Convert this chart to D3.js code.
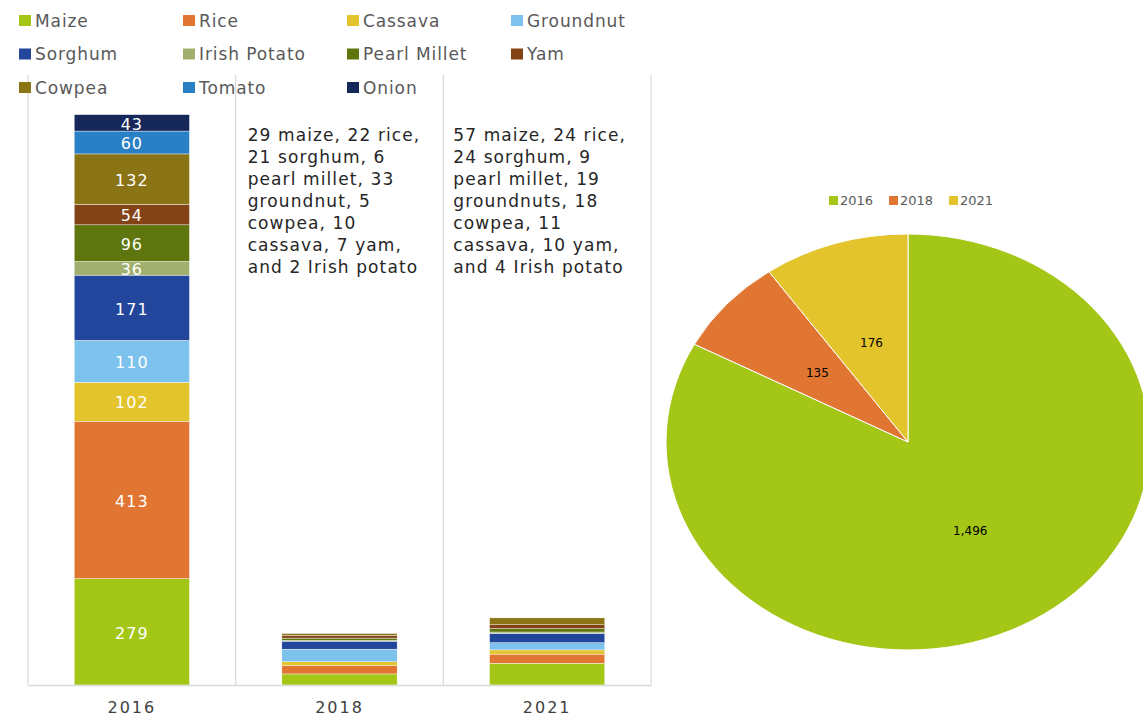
<!DOCTYPE html>
<html>
<head>
<meta charset="utf-8">
<script src="https://cdn.jsdelivr.net/npm/d3@7"></script>
<style>
  body { margin: 0; background: #fff; }
  text { font-family: "DejaVu Sans", sans-serif; }
</style>
</head>
<body>
<div id="chart"></div>
<script>
// years on the x axis
const years = ["2016", "2018", "2021"];

// series, one value per year
const crops = ["Maize", "Rice", "Cassava", "Groundnut", "Sorghum", "Irish Potato",
               "Pearl Millet", "Yam", "Cowpea", "Tomato", "Onion"];
const maize       = [279, 29, 57];
const rice        = [413, 22, 24];
const cassava     = [102, 10, 11];
const groundnut   = [110, 33, 19];
const sorghum     = [171, 21, 24];
const irishPotato = [36, 2, 4];
const pearlMillet = [96, 6, 9];
const yam         = [54, 7, 10];
const cowpea      = [132, 5, 18];
const tomato      = [60, 0, 0];
const onion       = [43, 0, 0];

const cropColors = ["#a3c617", "#e07631", "#e4c42c", "#7dc1ed", "#21469b", "#a1b06f",
                    "#5f760e", "#844217", "#8a7415", "#2980c4", "#16285a"];

// pie totals
const pieValues = [1496, 135, 176];
const pieColors = ["#a3c617", "#e07631", "#e4c42c"];

const note2018 = ["29 maize, 22 rice,", "21 sorghum, 6", "pearl millet, 33",
                  "groundnut, 5", "cowpea, 10", "cassava, 7 yam,", "and 2 Irish potato"];
const note2021 = ["57 maize, 24 rice,", "24 sorghum, 9", "pearl millet, 19",
                  "groundnuts, 18", "cowpea, 11", "cassava, 10 yam,", "and 4 Irish potato"];

const seriesValues = [maize, rice, cassava, groundnut, sorghum, irishPotato,
                      pearlMillet, yam, cowpea, tomato, onion];

const table = years.map((yr, i) => {
    const row = {year: yr};
    crops.forEach((c, j) => row[c] = seriesValues[j][i]);
    return row;
});

const W = 1143, H = 716;
const svg = d3.select("#chart").append("svg")
    .attr("width", W).attr("height", H);

const x = d3.scaleBand().domain(years).range([28, 651]).padding(0);
const y = d3.scaleLinear().domain([0, 1600]).range([685, 75]);
const barW = x.bandwidth() * 0.555;

// vertical separators
const seps = years.map(d => x(d)).concat([x.range()[1]]);
svg.selectAll(".sep").data(seps).enter().append("line")
    .attr("x1", d => d).attr("x2", d => d)
    .attr("y1", y(1600)).attr("y2", y(0))
    .attr("stroke", "#d9d9d9").attr("stroke-width", 1.2);

const stack = d3.stack().keys(crops)(table);

const layer = svg.selectAll(".layer").data(stack).enter().append("g")
    .attr("fill", (d, i) => cropColors[i]);

layer.selectAll("rect").data(d => d).enter().append("rect")
    .attr("x", d => x(d.data.year) + (x.bandwidth() - barW) / 2)
    .attr("y", d => y(d[1]))
    .attr("width", barW)
    .attr("height", d => y(d[0]) - y(d[1]))
    .attr("stroke", "#fff").attr("stroke-width", 0.4);

// labels on the 2016 bar
layer.each(function(s) {
    const d = s[0];
    d3.select(this.parentNode).append("text")
        .attr("x", x(d.data.year) + x.bandwidth() / 2)
        .attr("y", (y(d[0]) + y(d[1])) / 2 + 1)
        .attr("dy", "0.36em")
        .attr("text-anchor", "middle")
        .attr("fill", "#fff")
        .style("font-size", "16px")
        .style("letter-spacing", "1px")
        .text(d[1] - d[0]);
});

// x axis
const xAxis = svg.append("g")
    .attr("transform", `translate(0,${y(0)})`)
    .call(d3.axisBottom(x).tickSize(0).tickPadding(17));
xAxis.select(".domain").attr("stroke", "#d9d9d9").attr("stroke-width", 1.5);
xAxis.selectAll("text")
    .style("font-family", "DejaVu Sans, sans-serif")
    .style("font-size", "16px")
    .style("letter-spacing", "2px")
    .attr("fill", "#404040");

// notes for 2018 and 2021
[[note2018, "2018"], [note2021, "2021"]].forEach(([lines, yr], k) => {
    const tx = x(yr) + (k === 0 ? 12 : 10);
    const t = svg.append("text")
        .attr("x", tx)
        .attr("y", 141)
        .attr("fill", "#262626")
        .style("font-size", "17px")
        .style("letter-spacing", "1.1px");
    t.selectAll("tspan").data(lines).enter().append("tspan")
        .attr("x", tx)
        .attr("dy", (d, i) => i === 0 ? 0 : 22)
        .text(d => d);
});

// legend
const legend = svg.append("g");
crops.forEach((c, i) => {
    const col = i % 4, row = Math.floor(i / 4);
    const lx = 19 + col * 164, ly = 21 + row * 33.5;
    legend.append("rect").attr("x", lx).attr("y", ly - 6)
        .attr("width", 12).attr("height", 11).attr("fill", cropColors[i]);
    legend.append("text").attr("x", lx + 16).attr("y", ly)
        .attr("dy", "0.35em")
        .attr("fill", "#595959")
        .style("font-size", "17px")
        .style("letter-spacing", "0.9px")
        .text(c);
});

// pie (drawn stretched horizontally like the reference)
const cx = 908, cy = 442, R = 208, sx = 242 / 208;
const pie = d3.pie().sort(null)(pieValues);
const arc = d3.arc().innerRadius(0).outerRadius(R);

const pg = svg.append("g").attr("transform", `translate(${cx},${cy}) scale(${sx},1)`);
pg.selectAll("path").data(pie).enter().append("path")
    .attr("d", arc)
    .attr("fill", (d, i) => pieColors[i])
    .attr("stroke", "#fff").attr("stroke-width", 1)
    .attr("vector-effect", "non-scaling-stroke");

svg.selectAll(".pielabel").data(pie).enter().append("text")
    .attr("x", d => cx + arc.centroid(d)[0] * sx)
    .attr("y", d => cy + arc.centroid(d)[1])
    .attr("dy", "0.35em")
    .attr("text-anchor", "middle")
    .attr("fill", "#000")
    .style("font-size", "12px")
    .text(d => d3.format(",")(d.value));

// pie legend
const pl = svg.append("g");
years.forEach((yr, i) => {
    const lx = 829 + i * 60;
    pl.append("rect").attr("x", lx).attr("y", 196)
        .attr("width", 9).attr("height", 9).attr("fill", pieColors[i]);
    pl.append("text").attr("x", lx + 11).attr("y", 200)
        .attr("dy", "0.35em")
        .attr("fill", "#595959")
        .style("font-size", "13px")
        .text(yr);
});
</script>
</body>
</html>
